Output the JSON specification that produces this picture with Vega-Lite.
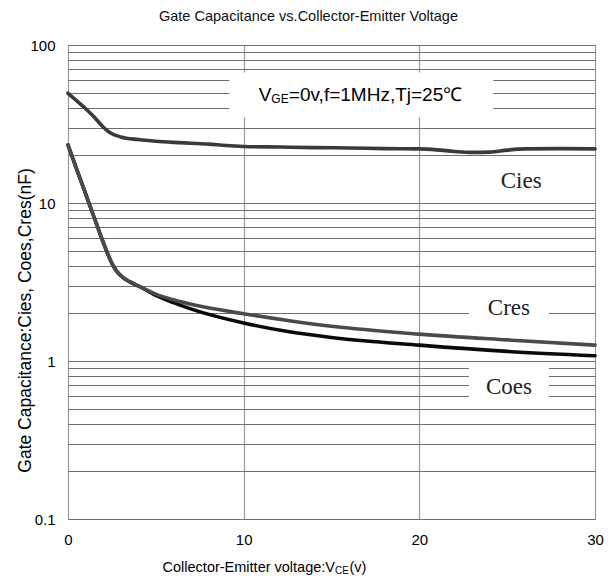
{
  "$schema": "https://vega.github.io/schema/vega-lite/v6.json",
  "width": 527,
  "height": 474,
  "autosize": {"type": "none"},
  "padding": {"left": 68, "top": 45, "right": 21, "bottom": 57},
  "background": "white",
  "title": {
    "text": "Gate Capacitance vs.Collector-Emitter Voltage",
    "font": "Liberation Sans",
    "fontSize": 14.5,
    "fontWeight": "normal",
    "color": "#111111",
    "anchor": "middle",
    "dx": -23,
    "offset": 14
  },
  "config": {
    "font": "Liberation Sans",
    "view": {"stroke": "#8a8a8a", "strokeWidth": 1}
  },
  "datasets": {
    "curves": [
      {"series": "Cies", "vce": 0, "cap": 49.5},
      {"series": "Cies", "vce": 0.9, "cap": 40.5},
      {"series": "Cies", "vce": 1.5, "cap": 34.9},
      {"series": "Cies", "vce": 2.0, "cap": 30.3},
      {"series": "Cies", "vce": 2.4, "cap": 27.8},
      {"series": "Cies", "vce": 3.0, "cap": 26.2},
      {"series": "Cies", "vce": 4, "cap": 25.2},
      {"series": "Cies", "vce": 5, "cap": 24.6},
      {"series": "Cies", "vce": 6, "cap": 24.2},
      {"series": "Cies", "vce": 7, "cap": 23.9},
      {"series": "Cies", "vce": 8, "cap": 23.6},
      {"series": "Cies", "vce": 9, "cap": 23.1},
      {"series": "Cies", "vce": 10, "cap": 22.8},
      {"series": "Cies", "vce": 12, "cap": 22.6},
      {"series": "Cies", "vce": 14, "cap": 22.4},
      {"series": "Cies", "vce": 16, "cap": 22.3},
      {"series": "Cies", "vce": 18, "cap": 22.1},
      {"series": "Cies", "vce": 20, "cap": 22.0},
      {"series": "Cies", "vce": 21, "cap": 21.7},
      {"series": "Cies", "vce": 22, "cap": 21.2},
      {"series": "Cies", "vce": 23, "cap": 20.9},
      {"series": "Cies", "vce": 24, "cap": 21.0},
      {"series": "Cies", "vce": 25, "cap": 21.6},
      {"series": "Cies", "vce": 26, "cap": 22.0},
      {"series": "Cies", "vce": 28, "cap": 22.1},
      {"series": "Cies", "vce": 30, "cap": 22.0},
      {"series": "Coes", "vce": 0, "cap": 23.3},
      {"series": "Coes", "vce": 0.6, "cap": 15.2},
      {"series": "Coes", "vce": 1.25, "cap": 9.6},
      {"series": "Coes", "vce": 1.8, "cap": 6.5},
      {"series": "Coes", "vce": 2.2, "cap": 4.95},
      {"series": "Coes", "vce": 2.5, "cap": 4.15},
      {"series": "Coes", "vce": 2.8, "cap": 3.67},
      {"series": "Coes", "vce": 3.1, "cap": 3.4},
      {"series": "Coes", "vce": 3.5, "cap": 3.18},
      {"series": "Coes", "vce": 4.1, "cap": 2.95},
      {"series": "Coes", "vce": 5, "cap": 2.6},
      {"series": "Coes", "vce": 6, "cap": 2.34},
      {"series": "Coes", "vce": 7.2, "cap": 2.1},
      {"series": "Coes", "vce": 10, "cap": 1.74},
      {"series": "Coes", "vce": 12.6, "cap": 1.53},
      {"series": "Coes", "vce": 15, "cap": 1.41},
      {"series": "Coes", "vce": 20, "cap": 1.26},
      {"series": "Coes", "vce": 25, "cap": 1.15},
      {"series": "Coes", "vce": 30, "cap": 1.08},
      {"series": "Cres", "vce": 0, "cap": 23.3},
      {"series": "Cres", "vce": 0.6, "cap": 15.2},
      {"series": "Cres", "vce": 1.25, "cap": 9.6},
      {"series": "Cres", "vce": 1.8, "cap": 6.5},
      {"series": "Cres", "vce": 2.2, "cap": 4.95},
      {"series": "Cres", "vce": 2.5, "cap": 4.15},
      {"series": "Cres", "vce": 2.8, "cap": 3.67},
      {"series": "Cres", "vce": 3.1, "cap": 3.4},
      {"series": "Cres", "vce": 3.5, "cap": 3.18},
      {"series": "Cres", "vce": 4.1, "cap": 2.95},
      {"series": "Cres", "vce": 5, "cap": 2.65},
      {"series": "Cres", "vce": 6, "cap": 2.44},
      {"series": "Cres", "vce": 7.2, "cap": 2.26},
      {"series": "Cres", "vce": 10, "cap": 1.99},
      {"series": "Cres", "vce": 12.6, "cap": 1.8},
      {"series": "Cres", "vce": 15, "cap": 1.66},
      {"series": "Cres", "vce": 20, "cap": 1.48},
      {"series": "Cres", "vce": 25, "cap": 1.36},
      {"series": "Cres", "vce": 30, "cap": 1.26}
    ],
    "notes": [
      {"label": "VGE", "x": 16.7, "y": 48.3, "main": "V", "sub": "GE", "rest": "=0v,f=1MHz,Tj=25℃"},
      {"label": "Cies", "x": 25.8, "y": 13.8, "main": "Cies"},
      {"label": "Cres", "x": 25.1, "y": 2.16, "main": "Cres"},
      {"label": "Coes", "x": 25.1, "y": 0.684, "main": "Coes"},
      {"label": "xtitle", "x": 15.2, "y": 0.1, "main": "Collector-Emitter voltage:V", "sub": "CE", "rest": "(v)"}
    ]
  },
  "layer": [
    {
      "data": {"name": "notes"},
      "transform": [{"filter": "datum.label == 'VGE'"}],
      "mark": {"type": "point", "filled": true, "fill": "white", "opacity": 1, "strokeWidth": 0, "shape": "M-1,-0.17H1V0.17H-1Z", "size": 69696},
      "encoding": {
        "x": {"field": "x", "type": "quantitative", "scale": {"domain": [0, 30], "nice": false, "zero": false},
          "axis": {"values": [0, 10, 20, 30], "grid": true, "gridColor": "#9a9a9a", "gridWidth": 1.2, "ticks": false, "domain": false, "labelFlush": false, "labelPadding": 13, "labelFontSize": 15, "labelColor": "#000000", "labelFont": "Liberation Sans", "title": null}},
        "y": {"field": "y", "type": "quantitative", "scale": {"type": "log", "domain": [0.1, 100], "nice": false},
          "axis": {"values": [0.1, 0.2, 0.3, 0.4, 0.5, 0.6, 0.7, 0.8, 0.9, 1, 2, 3, 4, 5, 6, 7, 8, 9, 10, 20, 30, 40, 50, 60, 70, 80, 90, 100],
            "labelExpr": "datum.value == 0.1 || datum.value == 1 || datum.value == 10 || datum.value == 100 ? datum.label : ''",
            "format": "~g", "grid": true, "gridColor": "#6e6e6e", "gridWidth": 1, "ticks": false, "domain": false, "labelPadding": 13, "labelFontSize": 15, "labelColor": "#000000", "labelFont": "Liberation Sans",
            "title": "Gate Capacitance:Cies, Coes,Cres(nF)", "titleFont": "Liberation Sans", "titleFontSize": 17.5, "titleFontWeight": "normal", "titleColor": "#000000", "titleX": -43, "titleY": 275, "titleBaseline": "middle", "titleAlign": "center"}}
      }
    },
    {
      "data": {"name": "notes"},
      "transform": [{"filter": "datum.label == 'Cres' || datum.label == 'Coes'"}],
      "mark": {"type": "point", "filled": true, "fill": "white", "opacity": 1, "strokeWidth": 0, "shape": "M-1,-0.475H1V0.475H-1Z", "size": 6400},
      "encoding": {
        "x": {"field": "x", "type": "quantitative"},
        "y": {"field": "y", "type": "quantitative"}
      }
    },
    {
      "data": {"name": "curves"},
      "mark": {"type": "line", "strokeWidth": 3.6, "interpolate": "monotone", "strokeCap": "round"},
      "encoding": {
        "x": {"field": "vce", "type": "quantitative"},
        "y": {"field": "cap", "type": "quantitative"},
        "color": {"field": "series", "type": "nominal", "scale": {"domain": ["Cies", "Coes", "Cres"], "range": ["#3a3a3a", "#0a0a0a", "#4a4a4a"]}, "legend": null}
      }
    },
    {
      "data": {"name": "notes"},
      "transform": [{"filter": "datum.label == 'Cies' || datum.label == 'Cres' || datum.label == 'Coes'"}],
      "mark": {"type": "text", "font": "Liberation Serif", "fontSize": 23, "color": "#222222", "align": "center", "baseline": "middle"},
      "encoding": {
        "x": {"field": "x", "type": "quantitative"},
        "y": {"field": "y", "type": "quantitative"},
        "text": {"field": "main"}
      }
    },
    {
      "data": {"name": "notes"},
      "transform": [{"filter": "datum.label == 'VGE'"}],
      "mark": {"type": "text", "fontSize": 19, "color": "#000000", "align": "right", "baseline": "alphabetic", "dx": -90, "dy": 6},
      "encoding": {
        "x": {"field": "x", "type": "quantitative"},
        "y": {"field": "y", "type": "quantitative"},
        "text": {"field": "main"}
      }
    },
    {
      "data": {"name": "notes"},
      "transform": [{"filter": "datum.label == 'VGE'"}],
      "mark": {"type": "text", "fontSize": 12, "color": "#000000", "align": "left", "baseline": "alphabetic", "dx": -90, "dy": 8.5},
      "encoding": {
        "x": {"field": "x", "type": "quantitative"},
        "y": {"field": "y", "type": "quantitative"},
        "text": {"field": "sub"}
      }
    },
    {
      "data": {"name": "notes"},
      "transform": [{"filter": "datum.label == 'VGE'"}],
      "mark": {"type": "text", "fontSize": 19, "color": "#000000", "align": "left", "baseline": "alphabetic", "dx": -72.5, "dy": 6},
      "encoding": {
        "x": {"field": "x", "type": "quantitative"},
        "y": {"field": "y", "type": "quantitative"},
        "text": {"field": "rest"}
      }
    },
    {
      "data": {"name": "notes"},
      "transform": [{"filter": "datum.label == 'xtitle'"}],
      "mark": {"type": "text", "fontSize": 14.5, "color": "#000000", "align": "right", "baseline": "alphabetic", "dy": 53, "clip": false},
      "encoding": {
        "x": {"field": "x", "type": "quantitative"},
        "y": {"field": "y", "type": "quantitative"},
        "text": {"field": "main"}
      }
    },
    {
      "data": {"name": "notes"},
      "transform": [{"filter": "datum.label == 'xtitle'"}],
      "mark": {"type": "text", "fontSize": 10, "color": "#000000", "align": "left", "baseline": "alphabetic", "dy": 55, "clip": false},
      "encoding": {
        "x": {"field": "x", "type": "quantitative"},
        "y": {"field": "y", "type": "quantitative"},
        "text": {"field": "sub"}
      }
    },
    {
      "data": {"name": "notes"},
      "transform": [{"filter": "datum.label == 'xtitle'"}],
      "mark": {"type": "text", "fontSize": 14.5, "color": "#000000", "align": "left", "baseline": "alphabetic", "dx": 14.5, "dy": 53, "clip": false},
      "encoding": {
        "x": {"field": "x", "type": "quantitative"},
        "y": {"field": "y", "type": "quantitative"},
        "text": {"field": "rest"}
      }
    }
  ]
}
